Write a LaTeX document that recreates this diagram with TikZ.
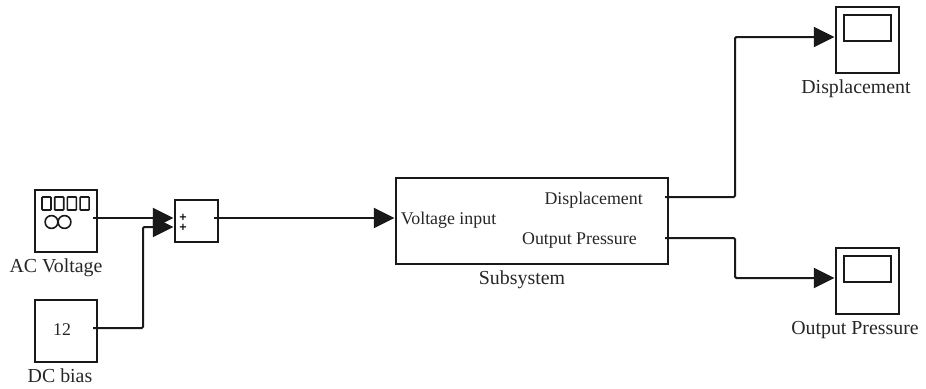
\documentclass[tikz,border=0pt]{standalone}
\usepackage{fontspec}
\setmainfont{Liberation Serif}
\newfontfamily\plusfont{DejaVu Sans}
\usetikzlibrary{arrows.meta}
\begin{document}
\begin{tikzpicture}[x=0.75pt,y=-0.75pt]
\tikzstyle{every node}+=[inner sep=0pt]
\tikzstyle{block}=[draw=black!90,line width=1.5pt,rectangle]
\tikzstyle{wire}=[draw=black!90,line width=1.5pt,-{Triangle[length=15.5pt,width=15pt]}]
\tikzstyle{icon}=[draw=black!90,line width=1.2pt]
\tikzstyle{blocklabel}=[anchor=base,font=\fontsize{14.9}{16}\selectfont,text=black!85]
\tikzstyle{portlabel}=[anchor=base,font=\fontsize{13.4}{15}\selectfont,text=black!85]
\tikzstyle{plusmark}=[anchor=center,font=\plusfont\bfseries\fontsize{7.5}{8}\selectfont,text=black]
\useasboundingbox (0,0) rectangle (926,389);
% blocks
\node [block,minimum width=46.5pt,minimum height=46.5pt] (acvoltage) at (66,221) {};
\node [block,minimum width=46.5pt,minimum height=46.5pt] (dcbias) at (66,331) {};
\node [block,minimum width=32pt,minimum height=31.5pt] (sum) at (196.5,221) {};
\node [block,minimum width=204pt,minimum height=64.5pt] (subsystem) at (532,221) {};
\node [block,minimum width=47pt,minimum height=49.5pt] (scopedisp) at (867.5,40) {};
\node [block,minimum width=47pt,minimum height=49.5pt] (scopepres) at (867.5,281) {};
% block labels
\node [blocklabel] (aclabel) at (56,272) {AC Voltage};
\node [blocklabel] (dclabel) at (60,382) {DC bias};
\node [blocklabel] (sublabel) at (522,284) {Subsystem};
\node [blocklabel] (displabel) at (856,93) {Displacement};
\node [blocklabel] (preslabel) at (855,334) {Output Pressure};
\node [portlabel] (constant) at (62,335) {12};
\node [portlabel,anchor=base west] (voltin) at (400.5,224) {Voltage input};
\node [portlabel,anchor=base east] (dispout) at (643,204) {Displacement};
\node [portlabel,anchor=base east] (presout) at (637,244) {Output Pressure};
\node [plusmark] (plusa) at (183,217.5) {+};
\node [plusmark] (plusb) at (183,227.5) {+};
% icons
\foreach \i in {0,1,2,3}
  \draw [icon,rounded corners=0.5pt] (42+12.7*\i,197) rectangle +(9,13);
\draw [icon] (51.5,222) circle (6.4);
\draw [icon] (64.5,222) circle (6.4);
\draw [icon] (844,15) rectangle (891,41);
\draw [icon] (844,256) rectangle (891,282);
% ports
\coordinate (acout) at (93,218);
\coordinate (dcout) at (93,328);
\coordinate (sumina) at (173.5,218);
\coordinate (suminb) at (173.5,227);
\coordinate (sumout) at (214,218);
\coordinate (subin) at (394.5,218);
\coordinate (subouta) at (665,197);
\coordinate (suboutb) at (665,238);
\coordinate (dispin) at (834.5,37);
\coordinate (presin) at (834.5,278);
% connectors
\draw [wire] (acout) -- (sumina);
\draw [wire,rounded corners=1pt] (dcout) -| (143,227) -- (suminb);
\draw [wire] (sumout) -- (subin);
\draw [wire,rounded corners=1pt] (subouta) -| (735,37) -- (dispin);
\draw [wire,rounded corners=1pt] (suboutb) -| (735,278) -- (presin);
\end{tikzpicture}
\end{document}
